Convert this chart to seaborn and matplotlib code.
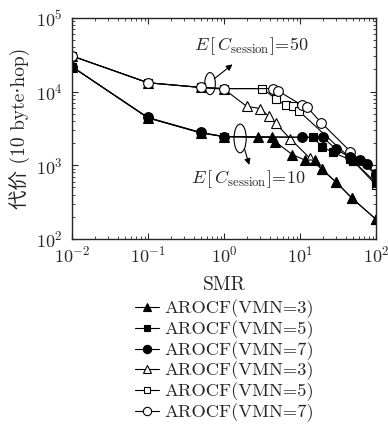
import seaborn as sns
import pandas as pd
import numpy as np
from matplotlib import pyplot as plt
from matplotlib.patches import Ellipse

# E[C_session]=10 (filled markers)
smr_f3 = [0.01, 0.1, 0.5, 1, 2.8, 4.3, 4.7, 7.9, 11.6, 15.7, 19.4, 30, 48, 100]
cost_f3 = [21800, 4400, 2750, 2450, 2400, 2400, 2100, 1400, 1180, 1180, 880, 590, 360, 185]
smr_f5 = [0.01, 0.1, 0.5, 1, 14.8, 19.4, 27, 45, 50, 100]
cost_f5 = [21800, 4400, 2750, 2450, 2400, 1800, 1500, 1200, 1150, 580]
smr_f7 = [0.01, 0.1, 0.5, 1, 10.7, 20, 30, 45, 62, 76, 100]
cost_f7 = [21800, 4460, 2790, 2460, 2400, 2400, 1640, 1290, 1170, 1030, 760]

# E[C_session]=50 (open markers)
smr_o3 = [0.01, 0.1, 0.5, 1, 2.0, 3.0, 3.9, 4.8, 7.4, 13.5, 19.4, 30, 48, 100]
cost_o3 = [30500, 13200, 11400, 10800, 6300, 5900, 4600, 3700, 2300, 1250, 880, 590, 360, 185]
smr_o5 = [0.01, 0.1, 0.5, 1, 3.2, 4.8, 6.5, 8.2, 9.8, 50, 100]
cost_o5 = [30500, 13200, 11400, 11000, 11000, 8000, 6500, 6300, 5400, 1150, 540]
smr_o7 = [0.01, 0.1, 0.5, 1, 4.4, 5.1, 10.7, 12.5, 19, 46, 100]
cost_o7 = [30500, 13200, 11400, 11000, 11000, 10300, 6500, 6100, 3800, 1540, 740]

labels = ['AROCF(VMN=3)', 'AROCF(VMN=5)', 'AROCF(VMN=7)',
          'AROCF(VMN=3)', 'AROCF(VMN=5)', 'AROCF(VMN=7)']

sns.set_style("ticks")
plt.rcParams['font.family'] = ['cmr10', 'Noto Sans CJK SC', 'DejaVu Sans']
plt.rcParams['mathtext.fontset'] = 'cm'
plt.rcParams['axes.formatter.use_mathtext'] = True
plt.rcParams['axes.unicode_minus'] = False

fig = plt.figure(figsize=(3.88, 4.26), dpi=100)
ax = fig.add_axes([0.1856, 0.4390, 0.7835, 0.5188])

series = [
    (smr_f3, cost_f3, '^', 'black'),
    (smr_f5, cost_f5, 's', 'black'),
    (smr_f7, cost_f7, 'o', 'black'),
    (smr_o3, cost_o3, '^', 'white'),
    (smr_o5, cost_o5, 's', 'white'),
    (smr_o7, cost_o7, 'o', 'white'),
]
# open series first so the filled ones sit on top
for i in [3, 4, 5, 0, 1, 2]:
    x, y, m, fc = series[i]
    sns.lineplot(x=x, y=y, ax=ax, color='black', lw=0.8, marker=m,
                 markersize=7 if m != 's' else 6, markerfacecolor=fc,
                 markeredgecolor='black', markeredgewidth=0.8,
                 sort=False, legend=False)

ax.set_xscale('log')
ax.set_yscale('log')
ax.set_xlim(0.01, 100)
ax.set_ylim(100, 1e5)
for s in ax.spines.values():
    s.set_linewidth(1.0)
ax.tick_params(which='both', direction='in', top=True, right=True, labelsize=13)
ax.tick_params(axis='x', pad=4)
ax.tick_params(axis='y', pad=7)
ax.tick_params(which='major', length=4)
ax.tick_params(which='minor', length=2)
ax.set_xlabel('SMR', fontsize=14, labelpad=8)
ax.set_ylabel('代价 (10 byte\u22c5hop)', fontsize=14, labelpad=4)

# annotations
ax.text(0.40, 0.874, r'$E\,[\,C_{\mathrm{session}}]\!=\!50$', transform=ax.transAxes,
        fontsize=13, va='center')
ax.add_patch(Ellipse((0.454, 0.703), 0.035, 0.10, transform=ax.transAxes,
                     fill=False, lw=0.8, ec='black'))
ax.annotate('', xy=(0.528, 0.79), xytext=(0.468, 0.725), xycoords='axes fraction',
            arrowprops=dict(arrowstyle='-|>', color='black', lw=0.8, mutation_scale=9,
                            shrinkA=0, shrinkB=0))
ax.text(0.39, 0.27, r'$E\,[\,C_{\mathrm{session}}]\!=\!10$', transform=ax.transAxes,
        fontsize=13, va='center')
ax.add_patch(Ellipse((0.553, 0.455), 0.04, 0.13, transform=ax.transAxes,
                     fill=False, lw=0.8, ec='black'))
ax.annotate('', xy=(0.583, 0.335), xytext=(0.568, 0.405), xycoords='axes fraction',
            arrowprops=dict(arrowstyle='-|>', color='black', lw=0.8, mutation_scale=9,
                            shrinkA=0, shrinkB=0))

legend_handles = []
for x, y, m, fc in series:
    legend_handles.append(plt.Line2D([], [], color='black', lw=0.8, marker=m,
                                     markersize=6 if m != 's' else 5, markerfacecolor=fc,
                                     markeredgecolor='black', markeredgewidth=0.8))
fig.legend(legend_handles, labels, loc='upper center', bbox_to_anchor=(0.578, 0.318),
           frameon=False, fontsize=13.3, handlelength=1.3, handletextpad=0.3,
           labelspacing=0.11, borderpad=0)

plt.savefig('out.png', dpi=100)
